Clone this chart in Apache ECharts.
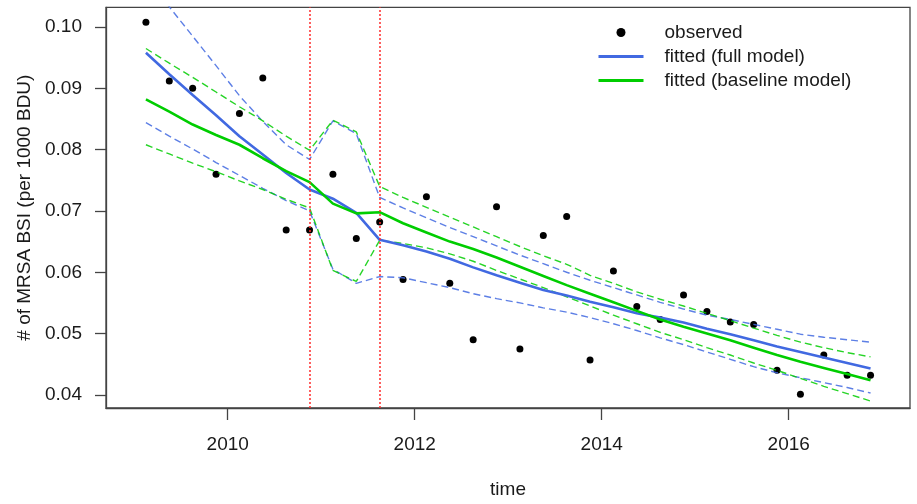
<!DOCTYPE html>
<html>
<head>
<meta charset="utf-8">
<script src="https://cdn.jsdelivr.net/npm/echarts@6/dist/echarts.min.js"></script>
<style>
html,body{margin:0;padding:0;background:#fff;}
#chart{width:917px;height:504px;}
</style>
</head>
<body>
<div id="chart"></div>
<script>
const times = [2009.125, 2009.375, 2009.625, 2009.875, 2010.125, 2010.375, 2010.625, 2010.875,
  2011.125, 2011.375, 2011.625, 2011.875, 2012.125, 2012.375, 2012.625, 2012.875,
  2013.125, 2013.375, 2013.625, 2013.875, 2014.125, 2014.375, 2014.625, 2014.875,
  2015.125, 2015.375, 2015.625, 2015.875, 2016.125, 2016.375, 2016.625, 2016.875];

const observed = [0.1008, 0.0912, 0.0900, 0.0760, 0.0859, 0.0917, 0.0669, 0.0669,
  0.0760, 0.0655, 0.0682, 0.0588, 0.0723, 0.0582, 0.0490, 0.0707,
  0.0475, 0.0660, 0.0691, 0.0457, 0.0602, 0.0544, 0.0523, 0.0563,
  0.0536, 0.0519, 0.0515, 0.0440, 0.0401, 0.0465, 0.0432, 0.0432];

const fullFit = [0.0958, 0.0923, 0.0889, 0.0856, 0.0822, 0.0792, 0.0762, 0.0735,
  0.0720, 0.0697, 0.0653, 0.0644, 0.0634, 0.0622, 0.0608, 0.0595,
  0.0583, 0.0571, 0.0562, 0.0552, 0.0543, 0.0533, 0.0526, 0.0518,
  0.0508, 0.0499, 0.0489, 0.0479, 0.0470, 0.0461, 0.0452, 0.0443];

const fullUpper = [0.1080, 0.1033, 0.0985, 0.0937, 0.0888, 0.0846, 0.0808, 0.0784,
  0.0847, 0.0826, 0.0722, 0.0705, 0.0689, 0.0673, 0.0658, 0.0643,
  0.0628, 0.0614, 0.0600, 0.0587, 0.0575, 0.0563, 0.0551, 0.0540,
  0.0530, 0.0523, 0.0515, 0.0507, 0.0499, 0.0494, 0.0490, 0.0486];

const fullLower = [0.0844, 0.0822, 0.0801, 0.0779, 0.0758, 0.0737, 0.0717, 0.0700,
  0.0605, 0.0582, 0.0593, 0.0591, 0.0583, 0.0575, 0.0565, 0.0557,
  0.0550, 0.0542, 0.0535, 0.0526, 0.0516, 0.0505, 0.0493, 0.0482,
  0.0470, 0.0458, 0.0446, 0.0436, 0.0428, 0.0420, 0.0412, 0.0403];

const baseFit = [0.0882, 0.0862, 0.0841, 0.0824, 0.0808, 0.0786, 0.0765, 0.0747,
  0.0712, 0.0696, 0.0698, 0.0680, 0.0665, 0.0650, 0.0638, 0.0624,
  0.0609, 0.0594, 0.0579, 0.0565, 0.0551, 0.0537, 0.0523, 0.0511,
  0.0500, 0.0489, 0.0477, 0.0465, 0.0454, 0.0444, 0.0434, 0.0424];

const baseUpper = [0.0965, 0.0941, 0.0918, 0.0894, 0.0870, 0.0847, 0.0822, 0.0799,
  0.0848, 0.0829, 0.0740, 0.0722, 0.0706, 0.0690, 0.0674, 0.0658,
  0.0642, 0.0627, 0.0613, 0.0595, 0.0582, 0.0568, 0.0556, 0.0545,
  0.0533, 0.0521, 0.0509, 0.0497, 0.0486, 0.0477, 0.0469, 0.0462];

const baseLower = [0.0808, 0.0793, 0.0778, 0.0764, 0.0749, 0.0735, 0.0719, 0.0705,
  0.0603, 0.0585, 0.0652, 0.0647, 0.0640, 0.0630, 0.0618, 0.0603,
  0.0589, 0.0575, 0.0560, 0.0545, 0.0530, 0.0516, 0.0502, 0.0490,
  0.0477, 0.0465, 0.0452, 0.0440, 0.0427, 0.0414, 0.0402, 0.0390];

const interventionTimes = [2010.875, 2011.625];
const xTicks = [2010, 2012, 2014, 2016];
const yTicks = [0.04, 0.05, 0.06, 0.07, 0.08, 0.09, 0.10];

const legendNames = ['observed', 'fitted (full model)', 'fitted (baseline model)'];

const BLUE = '#4169E1';
const GREEN = '#00CD00';
const FONT = 'Liberation Sans, Arial, sans-serif';
const TXT = '#1a1a1a';
const AX = '#444';

function pairs(ys) { return times.map((t, i) => [t, ys[i]]); }

function solid(name, ys, color) {
  return { name, type: 'line', data: pairs(ys), symbol: 'none', showSymbol: false,
    lineStyle: { color, width: 2.6 }, itemStyle: { color }, silent: true, z: 3 };
}
function dashed(name, ys, color) {
  return { name, type: 'line', data: pairs(ys), symbol: 'none', showSymbol: false,
    lineStyle: { color, width: 1.4, type: [7, 4], opacity: 0.85 }, itemStyle: { color }, silent: true, z: 2 };
}

const chart = echarts.init(document.getElementById('chart'), null, { renderer: 'canvas' });
chart.setOption({
  animation: false,
  backgroundColor: '#fff',
  textStyle: { fontFamily: FONT },
  grid: { left: 106, right: 7, top: 7.3, bottom: 90.7, show: true, borderColor: AX, borderWidth: 1.3, backgroundColor: 'transparent' },
  legend: {
    data: [
      { name: legendNames[0], icon: 'circle', itemStyle: { color: '#000', opacity: 1 } },
      { name: legendNames[1], itemStyle: { opacity: 0 }, lineStyle: { color: BLUE, width: 3 } },
      { name: legendNames[2], itemStyle: { opacity: 0 }, lineStyle: { color: GREEN, width: 3 } }
    ],
    orient: 'vertical', left: 597, top: 21, padding: 0,
    itemWidth: 45, itemHeight: 9, itemGap: 1,
    textStyle: { fontSize: 19, color: TXT, fontFamily: FONT, lineHeight: 23, padding: [0, 0, 0, 16] },
    selectedMode: false
  },
  xAxis: {
    type: 'value', min: 2008.698, max: 2017.297,
    name: 'time', nameLocation: 'middle', nameGap: 72,
    nameTextStyle: { fontSize: 19, color: TXT, fontFamily: FONT },
    axisLine: { show: true, lineStyle: { color: AX, width: 1.3 } },
    axisTick: { show: true, length: 12, customValues: xTicks, lineStyle: { color: AX, width: 1.3 } },
    axisLabel: { customValues: xTicks, fontSize: 19, color: TXT, margin: 27, fontFamily: FONT,
      formatter: v => String(v) },
    splitLine: { show: false }
  },
  yAxis: {
    type: 'value', min: 0.03786, max: 0.10322,
    name: '# of MRSA BSI (per 1000 BDU)', nameLocation: 'middle', nameGap: 70, nameRotate: 90,
    nameTextStyle: { fontSize: 19, color: TXT, fontFamily: FONT },
    axisLine: { show: true, lineStyle: { color: AX, width: 1.3 } },
    axisTick: { show: true, length: 11, customValues: yTicks, lineStyle: { color: AX, width: 1.3 } },
    axisLabel: { customValues: yTicks, fontSize: 19, color: TXT, margin: 24, fontFamily: FONT,
      formatter: v => v.toFixed(2) },
    splitLine: { show: false }
  },
  series: [
    { name: 'observed', type: 'scatter', data: pairs(observed), symbol: 'circle', symbolSize: 7,
      itemStyle: { color: '#000', opacity: 1 }, silent: true, z: 1 },
    solid('fitted (full model)', fullFit, BLUE),
    solid('fitted (baseline model)', baseFit, GREEN),
    dashed('full upper', fullUpper, BLUE),
    dashed('full lower', fullLower, BLUE),
    dashed('baseline upper', baseUpper, GREEN),
    dashed('baseline lower', baseLower, GREEN),
    { name: 'intervention', type: 'line', data: [], silent: true, z: 4,
      markLine: { silent: true, symbol: ['none', 'none'], label: { show: false },
        lineStyle: { color: '#ff2a2a', width: 1.5, type: [2, 2] },
        data: interventionTimes.map(t => ({ xAxis: t })) } }
  ]
});
</script>
</body>
</html>
